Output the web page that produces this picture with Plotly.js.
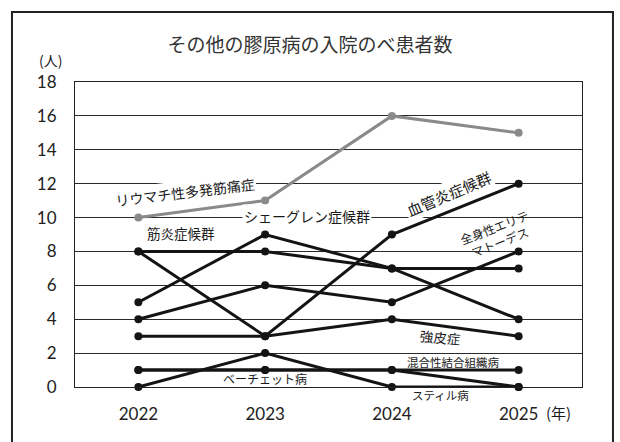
<!DOCTYPE html>
<html>
<head>
<meta charset="utf-8">
<script src="https://cdn.plot.ly/plotly-3.0.1.min.js"></script>
<style>
  html, body { margin: 0; padding: 0; background: #fff; }
  #chart { width: 620px; height: 442px; }
</style>
</head>
<body>
<div id="chart"></div>
<script>
const years = [2022, 2023, 2024, 2025];
const seriesNames = [
  'リウマチ性多発筋痛症', '筋炎症候群', 'シェーグレン症候群', '血管炎症候群',
  '全身性エリテマトーデス', '強皮症', '混合性結合組織病', 'ベーチェット病', 'スティル病'
];
const pmr      = [10, 11, 16, 15];
const myositis = [8, 8, 7, 7];
const sjogren  = [5, 9, 7, 4];
const vasculitis = [8, 3, 9, 12];
const sle      = [4, 6, 5, 8];
const ssc      = [3, 3, 4, 3];
const mctd     = [1, 1, 1, 1];
const behcet   = [1, 1, 1, 0];
const still    = [0, 2, 0, 0];
const seriesValues = [pmr, myositis, sjogren, vasculitis, sle, ssc, mctd, behcet, still];
const yTicks = [0, 2, 4, 6, 8, 10, 12, 14, 16, 18];

const JP = '"Noto Sans CJK JP", "Noto Sans", sans-serif';

const traces = seriesValues.map((vals, i) => {
  const c = i === 0 ? '#8a8a8a' : '#141414';
  return {
    x: years, y: vals, name: seriesNames[i], type: 'scatter', mode: 'lines+markers',
    line: { color: c, width: 3 },
    marker: { color: c, size: 8 },
    cliponaxis: false,
    hoverinfo: 'skip'
  };
});

// labels: [text, x, y, angle, size, whiteBackground]
const labels = [
  ['リウマチ性多発筋痛症', 2022.37, 11.5, -7, 14, true],
  ['筋炎症候群', 2022.34, 9.1, 0, 13.5, false],
  ['シェーグレン症候群', 2023.33, 10.1, 0, 14, true],
  ['血管炎症候群', 2024.45, 11.4, -23, 15, true],
  ['全身性エリテ<br>マトーデス', 2024.83, 9.0, -21, 12, false],
  ['強皮症', 2024.38, 2.95, 5, 13.5, false],
  ['混合性結合組織病', 2024.48, 1.47, 0, 11.5, false],
  ['ベーチェット病', 2023.0, 0.53, 0, 12, false]
];

const annotations = labels.map(l => ({
  text: l[0], x: l[1], y: l[2], xref: 'x', yref: 'y', showarrow: false,
  textangle: l[3], bgcolor: l[5] ? '#ffffff' : 'rgba(0,0,0,0)',
  font: { family: JP, size: l[4], color: '#1a1a1a' }, borderpad: 1
}));
annotations.push({
  text: 'スティル病', x: 2024.38, xref: 'x', yref: 'paper', y: -0.026,
  xanchor: 'center', yanchor: 'middle', showarrow: false,
  font: { family: JP, size: 11.5, color: '#1a1a1a' }
});
annotations.push({
  text: '(人)', xref: 'paper', yref: 'paper', x: -0.048, y: 1.072,
  xanchor: 'center', yanchor: 'middle', showarrow: false,
  font: { family: JP, size: 14, color: '#1a1a1a' }
});
annotations.push({
  text: '(年)', xref: 'paper', yref: 'paper', x: 0.953, y: -0.082,
  xanchor: 'center', yanchor: 'middle', showarrow: false,
  font: { family: JP, size: 15, color: '#1a1a1a' }
});

const layout = {
  width: 620, height: 442,
  margin: { l: 75, r: 38, t: 82, b: 55 },
  paper_bgcolor: '#fff', plot_bgcolor: '#fff',
  showlegend: false,
  title: {
    text: 'その他の膠原病の入院のべ患者数',
    x: 0.5, xanchor: 'center', y: 0.898, yanchor: 'middle',
    font: { family: JP, size: 19, color: '#333' }
  },
  xaxis: {
    type: 'linear', range: [2021.5, 2025.5],
    tickvals: years, ticktext: years.map(String),
    showgrid: false, zeroline: false,
    showline: true, mirror: true, linecolor: '#222', linewidth: 1,
    ticks: 'outside', ticklen: 12, tickcolor: 'rgba(0,0,0,0)',
    tickfont: { family: 'Lato, "Open Sans", sans-serif', size: 17, color: '#222' }
  },
  yaxis: {
    range: [0, 18], tickvals: yTicks,
    showgrid: true, gridcolor: '#2a2a2a', gridwidth: 1,
    zeroline: true, zerolinecolor: '#222', zerolinewidth: 2,
    showline: true, mirror: true, linecolor: '#222', linewidth: 1,
    ticks: 'outside', ticklen: 14, tickcolor: 'rgba(0,0,0,0)',
    tickfont: { family: 'Lato, "Open Sans", sans-serif', size: 17, color: '#222' }
  },
  annotations: annotations,
  shapes: [{
    type: 'rect', xref: 'paper', yref: 'paper',
    x0: -0.1243, x1: 1.0611, y0: -0.25, y1: 1.2295,
    line: { color: '#222', width: 2 }, fillcolor: 'rgba(0,0,0,0)', layer: 'below'
  }]
};

Plotly.newPlot('chart', traces, layout, { displayModeBar: false, staticPlot: true });
</script>
</body>
</html>
